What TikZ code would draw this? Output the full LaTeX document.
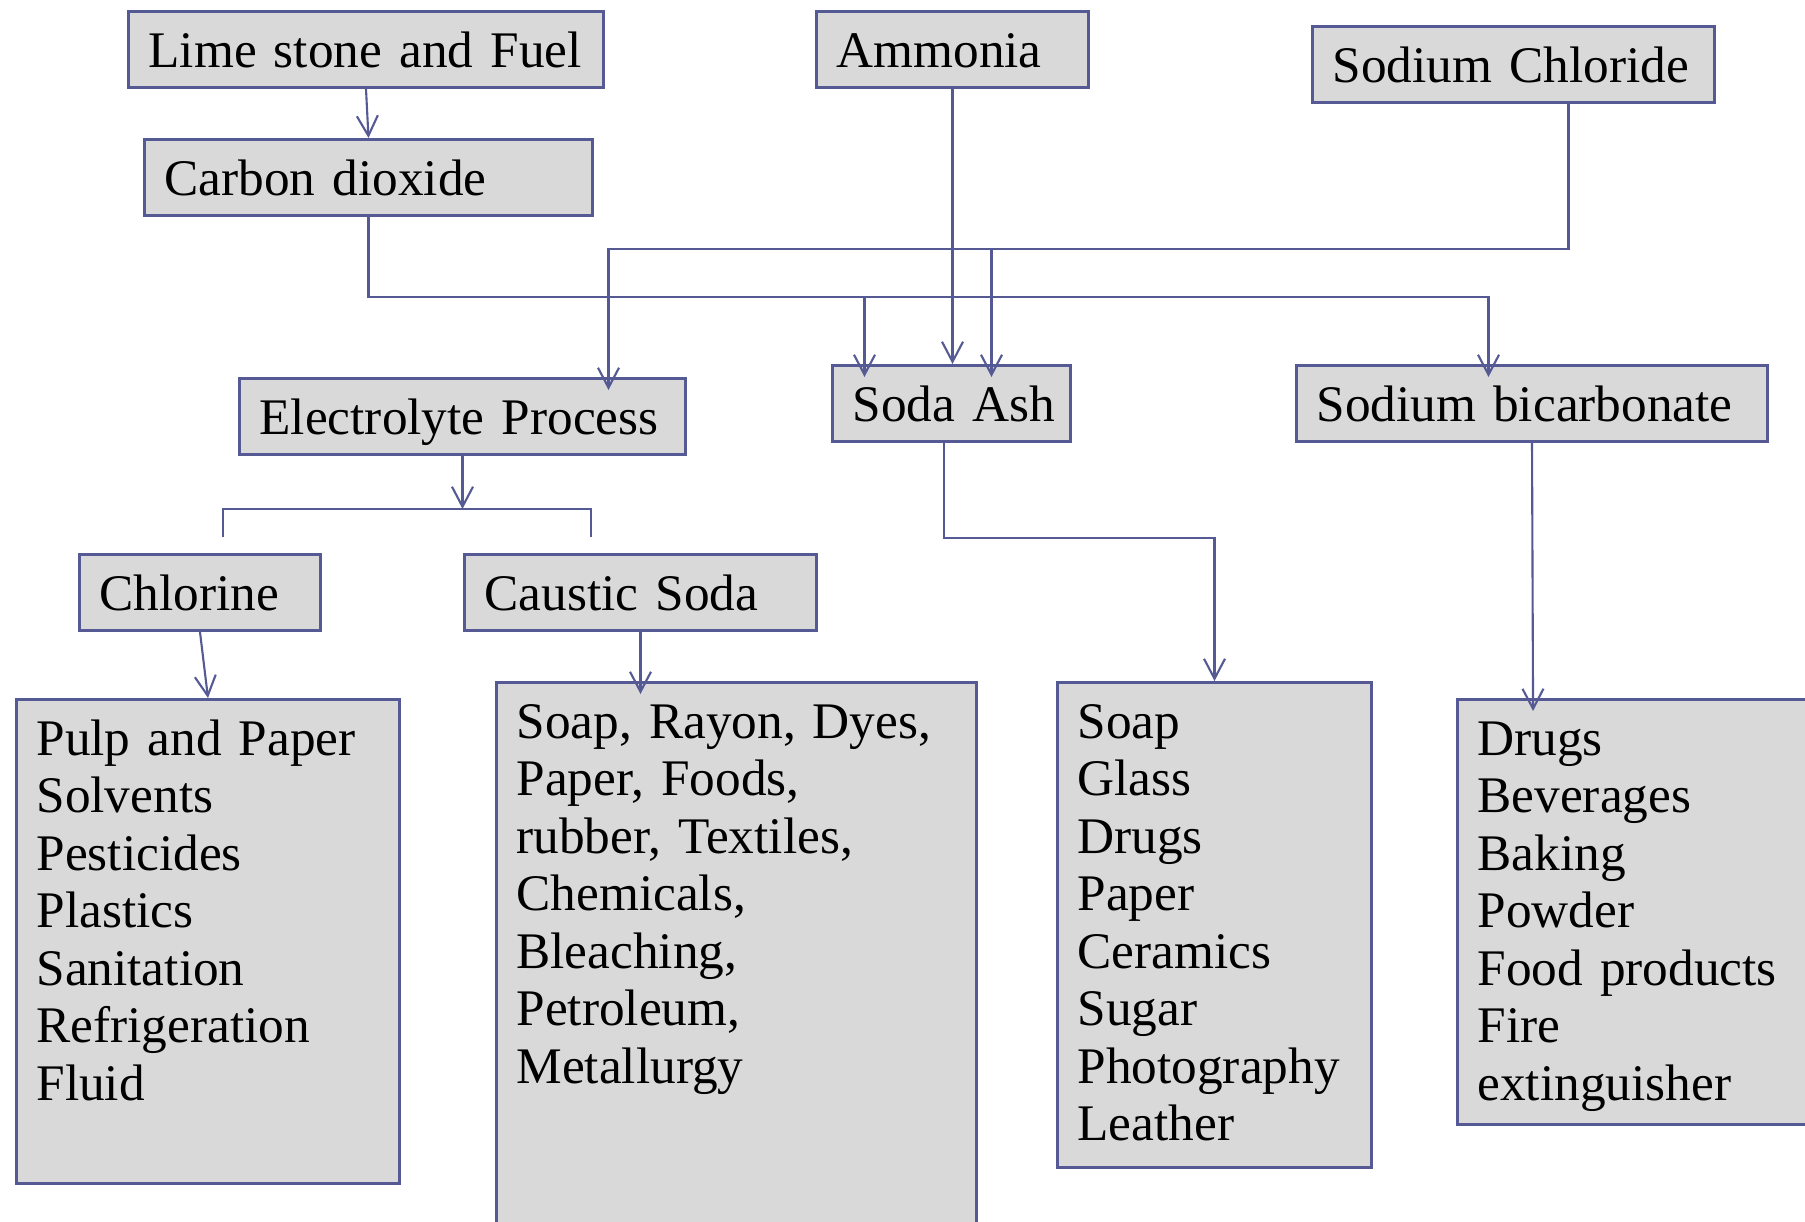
\documentclass[tikz,border=0pt]{standalone}
\usepackage{fontspec}
\setmainfont{Liberation Serif}
\usetikzlibrary{arrows.meta,positioning}
\definecolor{edgeblue}{RGB}{86,90,148}
\definecolor{boxgray}{RGB}{217,217,217}
\tikzset{
  box/.style={draw=edgeblue, fill=boxgray, line width=0.85pt, anchor=north west,
    inner xsep=0.2cm, inner ysep=0.2cm, align=left, text height=0.36cm, text depth=0pt,
    font=\fontsize{14.6}{16.35}\selectfont},
  wire/.style={draw=edgeblue, line width=0.6pt},
  conn/.style={wire, -{Straight Barb[length=0.2cm,width=0.21cm]}},
  into/.style={shorten >=-0.13cm}
}
\begin{document}
\begin{tikzpicture}
  \useasboundingbox (0,0) rectangle (18.05,-12.21);
  % sources
  \node[box, text width=4.35cm] (lime) at (1.27,-0.10) {\mbox{Lime stone and Fuel}};
  \node[box, text width=4.08cm] (co2) at (1.43,-1.38) {\mbox{Carbon dioxide}};
  \node[box, text width=2.32cm] (ammonia) at (8.15,-0.10) {\mbox{Ammonia}};
  \node[box, text width=3.62cm] (nacl) at (13.11,-0.25) {\mbox{Sodium Chloride}};
  % products
  \node[box, text width=4.06cm] (elec) at (2.38,-3.77) {\mbox{Electrolyte Process}};
  \node[box, text width=1.98cm] (sodaash) at (8.31,-3.64) {\mbox{Soda Ash}};
  \node[box, text width=4.31cm] (bicarb) at (12.95,-3.64) {\mbox{Sodium bicarbonate}};
  \node[box, text width=2.01cm] (chlorine) at (0.78,-5.53) {\mbox{Chlorine}};
  \node[box, text width=3.12cm] (caustic) at (4.63,-5.53) {\mbox{Caustic Soda}};
  % uses
  \node[box, text width=3.43cm, text depth=4.08cm] (chlist) at (0.15,-6.98)
    {Pulp and Paper\\Solvents\\Pesticides\\Plastics\\Sanitation\\Refrigeration\\Fluid};
  \node[box, text width=4.40cm, text depth=4.80cm] (cslist) at (4.95,-6.81)
    {Soap, Rayon, Dyes,\\Paper, Foods,\\rubber, Textiles,\\Chemicals,\\Bleaching,\\Petroleum,\\Metallurgy};
  \node[box, text width=2.74cm, text depth=4.09cm] (salist) at (10.56,-6.81)
    {Soap\\Glass\\Drugs\\Paper\\Ceramics\\Sugar\\Photography\\Leather};
  \node[box, text width=3.19cm, text depth=3.49cm] (bclist) at (14.56,-6.98)
    {Drugs\\Beverages\\Baking\\Powder\\Food products\\Fire\\extinguisher};

  \coordinate (upbus) at (0,-2.49);
  \coordinate (lowbus) at (0,-2.97);
  \coordinate (naout) at ([xshift=0.55cm]nacl.south);
  \coordinate (elin) at ([xshift=1.46cm]elec.north);
  \coordinate (saL) at ([xshift=-0.87cm]sodaash.north);
  \coordinate (saR) at ([xshift=0.40cm]sodaash.north);
  \coordinate (bcin) at ([xshift=-0.435cm]bicarb.north);
  \coordinate (split) at ([yshift=-0.53cm]elec.south);
  \coordinate (barL) at (2.23,-5.37);
  \coordinate (barR) at (5.91,-5.37);
  \coordinate (saout) at ([xshift=-0.075cm]sodaash.south);
  \coordinate (saturn) at (0,-5.38);
  \coordinate (bclin) at ([xshift=0.77cm]bclist.north west);

  \draw[conn] (lime.south) -- (co2.north);
  \draw[conn, into] (co2.south) |- (lowbus -| bcin) -- (bcin);
  \draw[conn, into] (saL |- lowbus) -- (saL);
  \draw[conn] (ammonia.south) -- (ammonia.south |- sodaash.north);
  \draw[conn, into] (naout) |- (upbus -| elin) -- (elin);
  \draw[conn, into] (saR |- upbus) -- (saR);
  \draw[conn] (elec.south) -- (split);
  \draw[wire] (barL) |- (split) -| (barR);
  \draw[conn] (chlorine.south) -- (chlist.north);
  \draw[conn, into] (caustic.south) -- (caustic.south |- cslist.north);
  \draw[conn] (saout) -- (saout |- saturn) -| (salist.north);
  \draw[conn, into] (bicarb.south) -- (bclin);
\end{tikzpicture}
\end{document}
